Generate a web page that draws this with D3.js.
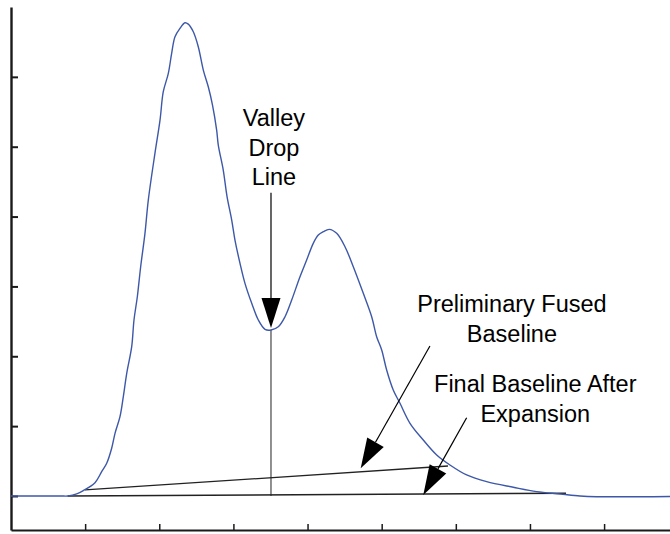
<!DOCTYPE html>
<html>
<head>
<meta charset="utf-8">
<script src="https://cdn.jsdelivr.net/npm/d3@7"></script>
<style>
  html, body { margin: 0; padding: 0; background: #fff; }
  svg { display: block; }
  text { font-family: "Liberation Sans", Arial, sans-serif; }
</style>
</head>
<body>
<svg id="chart" width="670" height="534"></svg>
<script>
// Detector trace: retention position vs. signal
const traceX = [0, 0.661, 0.773, 0.886, 0.975, 1.133, 1.223, 1.291, 1.358, 1.403, 1.470, 1.515, 1.561, 1.628, 1.659, 1.704, 1.749, 1.807, 1.852, 1.942, 2.010, 2.054, 2.122, 2.167, 2.212, 2.279, 2.347, 2.391, 2.459, 2.526, 2.594, 2.661, 2.718, 2.774, 2.796, 2.863, 2.913, 2.977, 3.021, 3.089, 3.156, 3.247, 3.336, 3.426, 3.507, 3.605, 3.696, 3.786, 3.898, 3.988, 4.077, 4.145, 4.212, 4.293, 4.393, 4.505, 4.617, 4.752, 4.865, 4.932, 5.000, 5.067, 5.156, 5.247, 5.382, 5.561, 5.742, 5.921, 6.146, 6.416, 6.775, 7.091, 7.405, 7.675, 7.900, 8.889];
const traceY = [0, 0, 0, 0.029, 0.076, 0.190, 0.348, 0.468, 0.683, 0.897, 1.135, 1.421, 1.756, 2.137, 2.519, 2.852, 3.282, 3.760, 4.236, 4.909, 5.381, 5.787, 6.050, 6.336, 6.574, 6.694, 6.774, 6.755, 6.645, 6.431, 6.097, 5.858, 5.596, 5.238, 5.024, 4.666, 4.294, 3.950, 3.664, 3.330, 3.044, 2.758, 2.519, 2.386, 2.376, 2.423, 2.566, 2.805, 3.139, 3.378, 3.617, 3.735, 3.783, 3.817, 3.760, 3.568, 3.282, 2.901, 2.566, 2.280, 2.090, 1.803, 1.517, 1.327, 1.041, 0.801, 0.587, 0.444, 0.301, 0.205, 0.125, 0.062, 0.029, 0, -0.010, -0.007];

// Axis ticks
const xTicks = [1, 2, 3, 4, 5, 6, 7, 8];
const yTicks = [0, 1, 2, 3, 4, 5, 6];

// Valley between the two peaks and the drop line beneath it
const valley = [3.507, 2.376];

// Baselines: [x0, y0, x1, y1]
const preliminaryBaseline = [0.998, 0.086, 5.894, 0.429];
const finalBaseline = [0.765, 0, 7.486, 0.039];

// Annotation arrows: [fromX, fromY, toX, toY]
const valleyArrow = [3.507, 4.34, 3.507, 2.404];
const preliminaryArrow = [5.651, 2.147, 4.717, 0.396];
const finalArrow = [6.146, 1.121, 5.561, 0.014];

// Annotation texts: lines, centre x, first-line baseline y
const valleyLabel = ["Valley", "Drop", "Line"];
const valleyLabelPos = [3.547, 5.294];
const preliminaryLabel = ["Preliminary Fused", "Baseline"];
const preliminaryLabelPos = [6.757, 2.633];
const finalLabel = ["Final Baseline After", "Expansion"];
const finalLabelPos = [7.072, 1.488];

const svg = d3.select("#chart");

const x = d3.scaleLinear().domain([0, 8.889]).range([11, 670]);
const y = d3.scaleLinear().domain([-0.487, 7]).range([530, 7]);

// Axes (ticks point inward)
const xAxis = svg.append("g")
  .attr("transform", `translate(0,${y(-0.487)})`)
  .call(d3.axisTop(x).tickValues(xTicks).tickSize(6).tickSizeOuter(0).tickFormat(""));
xAxis.select(".domain").attr("stroke", "#1a1a1a").attr("stroke-width", 2.2);
xAxis.selectAll(".tick line").attr("stroke", "#1a1a1a").attr("stroke-width", 1.5);

const yAxis = svg.append("g")
  .attr("transform", `translate(${x(0)},0)`)
  .call(d3.axisRight(y).tickValues(yTicks).tickSize(7).tickSizeOuter(0).tickFormat(""));
yAxis.select(".domain").attr("stroke", "#1a1a1a").attr("stroke-width", 2.4);
yAxis.selectAll(".tick line").attr("stroke", "#1a1a1a").attr("stroke-width", 2);

// Baselines and valley drop line
function segment(s, color, width) {
  svg.append("line")
    .attr("x1", x(s[0])).attr("y1", y(s[1]))
    .attr("x2", x(s[2])).attr("y2", y(s[3]))
    .attr("stroke", color).attr("stroke-width", width);
}
segment(finalBaseline, "#222", 1.6);
segment(preliminaryBaseline, "#222", 1.3);
segment([valley[0], valley[1], valley[0], 0], "#222", 1);

// Trace
const pts = traceX.map((d, i) => [d, traceY[i]]);
svg.append("path")
  .datum(pts)
  .attr("fill", "none")
  .attr("stroke", "#3d58a8")
  .attr("stroke-width", 1.4)
  .attr("d", d3.line().x(d => x(d[0])).y(d => y(d[1])).curve(d3.curveCatmullRom.alpha(0.5)));

// Arrows with filled heads
function arrow(a) {
  const x0 = x(a[0]), y0 = y(a[1]), x1 = x(a[2]), y1 = y(a[3]);
  const dx = x1 - x0, dy = y1 - y0, len = Math.hypot(dx, dy);
  const ux = dx / len, uy = dy / len;
  const headLen = 30, headHalf = 9.5;
  const bx = x1 - ux * headLen, by = y1 - uy * headLen;
  svg.append("line")
    .attr("x1", x0).attr("y1", y0).attr("x2", bx).attr("y2", by)
    .attr("stroke", "#000").attr("stroke-width", 1.2);
  svg.append("polygon")
    .attr("points", [[x1, y1], [bx - uy * headHalf, by + ux * headHalf], [bx + uy * headHalf, by - ux * headHalf]].map(p => p.join(",")).join(" "))
    .attr("fill", "#000");
}
arrow(valleyArrow);
arrow(preliminaryArrow);
arrow(finalArrow);

// Labels
function label(lines, pos) {
  const t = svg.append("text")
    .attr("text-anchor", "middle")
    .attr("font-size", 23.5)
    .attr("fill", "#000");
  lines.forEach((s, i) => {
    t.append("tspan")
      .attr("x", x(pos[0]))
      .attr("y", y(pos[1]) + i * 29.6)
      .text(s);
  });
}
label(valleyLabel, valleyLabelPos);
label(preliminaryLabel, preliminaryLabelPos);
label(finalLabel, finalLabelPos);
</script>
</body>
</html>
